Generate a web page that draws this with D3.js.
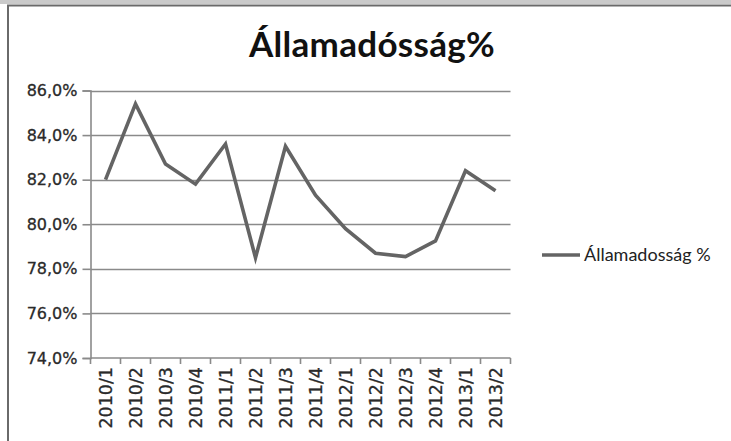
<!DOCTYPE html>
<html>
<head>
<meta charset="utf-8">
<style>
  body { margin: 0; background: #fff; }
  svg { display: block; }
</style>
</head>
<body>
<svg width="731" height="441"></svg>
<script src="https://cdn.jsdelivr.net/npm/d3@7/dist/d3.min.js"></script>
<script>
// data
var quarters = ["2010/1", "2010/2", "2010/3", "2010/4", "2011/1", "2011/2", "2011/3",
                "2011/4", "2012/1", "2012/2", "2012/3", "2012/4", "2013/1", "2013/2"];
var debtPct = [82.0, 85.4, 82.7, 81.8, 83.6, 78.5, 83.5,
               81.3, 79.8, 78.7, 78.55, 79.25, 82.4, 81.5];
var yTicks = [74, 76, 78, 80, 82, 84, 86];
var titleText = "Államadósság%";
var legendText = "Államadosság %";

var svg = d3.select("svg");

// window frame
svg.append("rect").attr("x", 0).attr("y", 0).attr("width", 731).attr("height", 4).attr("fill", "#cacaca");
svg.append("line").attr("x1", 7).attr("x2", 731).attr("y1", 5.5).attr("y2", 5.5)
    .attr("stroke", "#6a6a6a").attr("stroke-width", 2);
svg.append("line").attr("x1", 8).attr("x2", 8).attr("y1", 5).attr("y2", 441)
    .attr("stroke", "#6a6a6a").attr("stroke-width", 2);

var plot = { left: 90.5, right: 510.5, top: 90.5, bottom: 358 };

var x = d3.scaleBand().domain(quarters).range([plot.left, plot.right]).padding(0);
var y = d3.scaleLinear().domain([74, 86]).range([plot.bottom, plot.top]);

// gridlines
svg.append("g").selectAll("line").data(yTicks.slice(1)).join("line")
    .attr("x1", plot.left).attr("x2", plot.right)
    .attr("y1", function(d){ return Math.round(y(d)) + 0.5; })
    .attr("y2", function(d){ return Math.round(y(d)) + 0.5; })
    .attr("stroke", "#8a8a8a").attr("stroke-width", 1.6);

// y axis
var yAxis = d3.axisLeft(y).tickValues(yTicks).tickSize(8).tickPadding(5)
    .tickFormat(function(d){ return d.toFixed(1).replace(".", ",") + "%"; });
var gy = svg.append("g").attr("transform", "translate(" + plot.left + ",0)").call(yAxis);
gy.select(".domain").attr("stroke", "#8a8a8a").attr("stroke-width", 1.6);
gy.selectAll(".tick line").attr("stroke", "#8a8a8a").attr("stroke-width", 1.6);
gy.selectAll("text")
    .style("font-family", "'DejaVu Sans'").style("font-size", "16px")
    .attr("fill", "#2a2a2a").attr("stroke", "#2a2a2a").attr("stroke-width", 0.3);

// x axis: ticks between categories
var xAxis = d3.axisBottom(x).tickSize(0).tickPadding(8);
var gx = svg.append("g").attr("transform", "translate(0," + plot.bottom + ")").call(xAxis);
gx.select(".domain").attr("stroke", "#8a8a8a").attr("stroke-width", 1.6)
    .attr("d", "M" + plot.left + ",0H" + plot.right);
gx.selectAll(".tick text")
    .style("font-family", "'DejaVu Sans'").style("font-size", "17.5px")
    .attr("fill", "#2a2a2a").attr("stroke", "#2a2a2a").attr("stroke-width", 0.3)
    .attr("transform", "rotate(-90)")
    .attr("text-anchor", "end")
    .attr("x", -9).attr("y", 0).attr("dy", "0.35em");
gx.append("g").selectAll("line").data(quarters.concat(["end"])).join("line")
    .attr("x1", function(d, i){ return plot.left + i * x.bandwidth(); })
    .attr("x2", function(d, i){ return plot.left + i * x.bandwidth(); })
    .attr("y1", 0).attr("y2", 6)
    .attr("stroke", "#8a8a8a").attr("stroke-width", 1.6);

// series line
var line = d3.line()
    .x(function(d, i){ return x(quarters[i]) + x.bandwidth() / 2; })
    .y(function(d){ return y(d); });
svg.append("path").datum(debtPct)
    .attr("d", line)
    .attr("fill", "none").attr("stroke", "#646464").attr("stroke-width", 3.6)
    .attr("stroke-linejoin", "miter");

// title
svg.append("text").attr("x", 372).attr("y", 57)
    .attr("text-anchor", "middle")
    .style("font-family", "Lato").style("font-weight", "bold").style("font-size", "35px")
    .style("letter-spacing", "0.3px")
    .attr("fill", "#111").text(titleText);

// legend
svg.append("line").attr("x1", 542).attr("x2", 580).attr("y1", 255).attr("y2", 255)
    .attr("stroke", "#646464").attr("stroke-width", 3.6);
svg.append("text").attr("x", 584).attr("y", 261)
    .style("font-family", "Lato").style("font-size", "18px").attr("fill", "#222")
    .text(legendText);
</script>
</body>
</html>
